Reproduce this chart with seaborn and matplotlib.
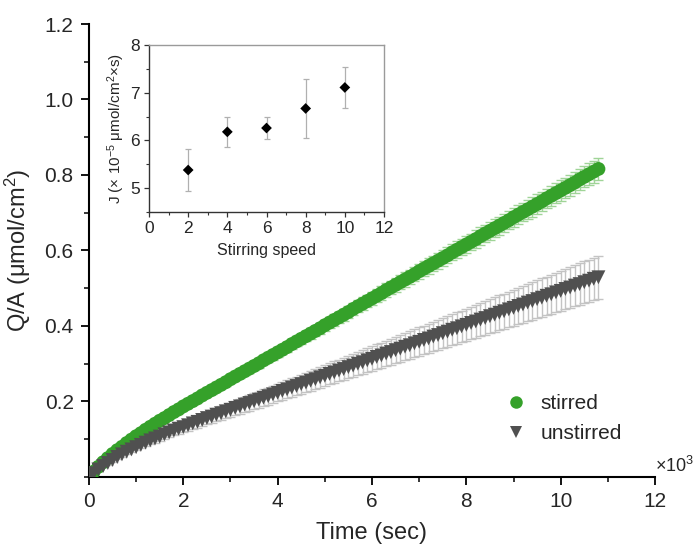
import numpy as np
import pandas as pd
import matplotlib
matplotlib.use("Agg")
import matplotlib.pyplot as plt
from matplotlib.ticker import MultipleLocator
import seaborn as sns

# --- main plot data (time in s, Q/A in umol/cm2) ---
time_s = list(range(0, 10900, 100))

stirred = [
    0.000, 0.014, 0.027, 0.039, 0.050, 0.061, 0.071, 0.080, 0.090, 0.099,
    0.108, 0.116, 0.125, 0.133, 0.141, 0.149, 0.156, 0.164, 0.172, 0.179,
    0.187, 0.194, 0.201, 0.208, 0.216, 0.223, 0.230, 0.237, 0.244, 0.251,
    0.259, 0.266, 0.273, 0.280, 0.287, 0.294, 0.301, 0.309, 0.316, 0.323,
    0.330, 0.337, 0.344, 0.352, 0.359, 0.366, 0.373, 0.380, 0.387, 0.394,
    0.402, 0.409, 0.416, 0.423, 0.430, 0.437, 0.445, 0.452, 0.459, 0.466,
    0.473, 0.480, 0.487, 0.495, 0.502, 0.509, 0.516, 0.523, 0.530, 0.537,
    0.545, 0.552, 0.559, 0.566, 0.573, 0.580, 0.587, 0.595, 0.602, 0.609,
    0.616, 0.623, 0.630, 0.638, 0.645, 0.652, 0.659, 0.666, 0.673, 0.680,
    0.688, 0.695, 0.702, 0.709, 0.716, 0.723, 0.730, 0.738, 0.745, 0.752,
    0.759, 0.766, 0.773, 0.780, 0.788, 0.795, 0.802, 0.809, 0.816,
]
stirred_err = [
    0.001, 0.002, 0.002, 0.002, 0.003, 0.003, 0.003, 0.004, 0.004, 0.004,
    0.004, 0.005, 0.005, 0.005, 0.005, 0.006, 0.006, 0.006, 0.007, 0.007,
    0.007, 0.007, 0.008, 0.008, 0.008, 0.008, 0.009, 0.009, 0.009, 0.009,
    0.010, 0.010, 0.010, 0.010, 0.011, 0.011, 0.011, 0.011, 0.012, 0.012,
    0.012, 0.012, 0.013, 0.013, 0.013, 0.013, 0.014, 0.014, 0.014, 0.014,
    0.015, 0.015, 0.015, 0.015, 0.016, 0.016, 0.016, 0.016, 0.017, 0.017,
    0.017, 0.017, 0.018, 0.018, 0.018, 0.018, 0.019, 0.019, 0.019, 0.019,
    0.020, 0.020, 0.020, 0.020, 0.021, 0.021, 0.021, 0.021, 0.022, 0.022,
    0.022, 0.022, 0.023, 0.023, 0.023, 0.023, 0.024, 0.024, 0.024, 0.024,
    0.025, 0.025, 0.025, 0.025, 0.026, 0.026, 0.026, 0.026, 0.027, 0.027,
    0.027, 0.027, 0.028, 0.028, 0.028, 0.028, 0.029, 0.029, 0.029,
]
unstirred = [
    0.000, 0.010, 0.020, 0.029, 0.037, 0.045, 0.053, 0.060, 0.067, 0.073,
    0.079, 0.085, 0.091, 0.097, 0.102, 0.107, 0.113, 0.118, 0.123, 0.128,
    0.132, 0.137, 0.142, 0.146, 0.151, 0.156, 0.160, 0.165, 0.169, 0.174,
    0.178, 0.183, 0.187, 0.192, 0.196, 0.201, 0.205, 0.210, 0.214, 0.219,
    0.223, 0.228, 0.232, 0.237, 0.241, 0.246, 0.250, 0.255, 0.259, 0.264,
    0.268, 0.273, 0.277, 0.282, 0.286, 0.291, 0.295, 0.300, 0.304, 0.309,
    0.313, 0.318, 0.322, 0.327, 0.331, 0.336, 0.340, 0.345, 0.349, 0.354,
    0.358, 0.363, 0.367, 0.372, 0.376, 0.381, 0.385, 0.390, 0.394, 0.399,
    0.403, 0.408, 0.412, 0.417, 0.421, 0.426, 0.430, 0.435, 0.439, 0.444,
    0.448, 0.453, 0.457, 0.462, 0.466, 0.471, 0.475, 0.480, 0.484, 0.489,
    0.493, 0.498, 0.502, 0.507, 0.511, 0.516, 0.520, 0.525, 0.529,
]
unstirred_err = [
    0.001, 0.001, 0.002, 0.003, 0.004, 0.005, 0.005, 0.006, 0.007, 0.008,
    0.008, 0.009, 0.010, 0.010, 0.011, 0.011, 0.012, 0.013, 0.013, 0.014,
    0.014, 0.015, 0.015, 0.016, 0.016, 0.016, 0.017, 0.017, 0.018, 0.018,
    0.019, 0.019, 0.019, 0.020, 0.020, 0.021, 0.021, 0.022, 0.022, 0.023,
    0.023, 0.024, 0.024, 0.025, 0.025, 0.025, 0.026, 0.026, 0.027, 0.027,
    0.028, 0.028, 0.029, 0.029, 0.030, 0.030, 0.031, 0.031, 0.032, 0.032,
    0.033, 0.033, 0.034, 0.034, 0.035, 0.035, 0.036, 0.036, 0.037, 0.037,
    0.038, 0.038, 0.039, 0.039, 0.040, 0.040, 0.041, 0.041, 0.042, 0.042,
    0.043, 0.043, 0.044, 0.044, 0.045, 0.045, 0.046, 0.046, 0.047, 0.047,
    0.048, 0.048, 0.049, 0.049, 0.050, 0.050, 0.051, 0.051, 0.052, 0.052,
    0.053, 0.053, 0.054, 0.054, 0.055, 0.055, 0.056, 0.056, 0.057,
]

# --- inset data ---
speed = [2, 4, 6, 8, 10]
flux = [5.38, 6.18, 6.26, 6.67, 7.11]
flux_err = [0.45, 0.31, 0.24, 0.62, 0.43]

x_ticks = [0, 2000, 4000, 6000, 8000, 10000, 12000]
x_ticklabels = ["0", "2", "4", "6", "8", "10", "12"]
y_ticks = [0.2, 0.4, 0.6, 0.8, 1.0, 1.2]

green = "#35a12a"
green_light = "#9fd497"
dark = "#505050"
gray_light = "#c4c4c4"

sns.set_theme(style="ticks")
plt.rcParams["font.family"] = ["Liberation Sans", "DejaVu Sans"]
plt.rcParams["mathtext.fontset"] = "custom"
plt.rcParams["mathtext.rm"] = "Liberation Sans"
plt.rcParams["mathtext.it"] = "Liberation Sans:italic"

df = pd.concat([
    pd.DataFrame({"time": time_s, "qa": stirred, "err": stirred_err, "group": "stirred"}),
    pd.DataFrame({"time": time_s, "qa": unstirred, "err": unstirred_err, "group": "unstirred"}),
])

fig = plt.figure(figsize=(6.95, 5.48), dpi=100)
ax = fig.add_axes([0.128, 0.1296, 0.8145, 0.8266])

# error bars first, markers on top
ax.errorbar(time_s, unstirred, yerr=unstirred_err, fmt="none", ecolor=gray_light,
            elinewidth=1.0, capsize=3.5, capthick=1.0, zorder=1)
ax.errorbar(time_s, stirred, yerr=stirred_err, fmt="none", ecolor=green_light,
            elinewidth=1.0, capsize=3.5, capthick=1.0, zorder=1)
sns.scatterplot(data=df, x="time", y="qa", hue="group", style="group",
                palette={"stirred": green, "unstirred": dark},
                markers={"stirred": "o", "unstirred": "v"},
                s=100, edgecolor="none", linewidth=0, ax=ax, zorder=3)

ax.set_xlim(0, 12000)
ax.set_ylim(0, 1.2)
ax.set_xticks(x_ticks)
ax.set_xticklabels(x_ticklabels)
ax.set_yticks(y_ticks)
ax.set_yticklabels([f"{v:.1f}" for v in y_ticks])
ax.xaxis.set_minor_locator(MultipleLocator(1000))
ax.yaxis.set_minor_locator(MultipleLocator(0.1))
ax.tick_params(axis="both", which="major", direction="out", length=6, width=1.3,
               labelsize=15, color="black", pad=5)
ax.tick_params(axis="both", which="minor", direction="out", length=3.5, width=1.1,
               color="black")
for side in ["top", "right"]:
    ax.spines[side].set_visible(False)
for side in ["left", "bottom"]:
    ax.spines[side].set_linewidth(1.5)
    ax.spines[side].set_color("black")
ax.set_xlabel("Time (sec)", fontsize=17, labelpad=8)
ax.set_ylabel("Q/A (μmol/cm$^2$)", fontsize=17, labelpad=8)
fig.text(655 / 695, 1 - 466 / 548, "×10$^3$", fontsize=13, ha="left", va="center")

leg = ax.legend(loc="upper left", bbox_to_anchor=(0.685, 0.225), frameon=False,
                fontsize=15, handletextpad=0.15, labelspacing=0.55, markerscale=0.9)
leg.set_title(None)

# --- inset ---
ins = fig.add_axes([149 / 695, 1 - 212 / 548, 235 / 695, 167 / 548])
ins.errorbar(speed, flux, yerr=flux_err, fmt="none", ecolor="#b0b0b0",
             elinewidth=0.9, capsize=2.5, capthick=0.9, zorder=1)
sns.scatterplot(x=speed, y=flux, marker="D", color="black", s=30,
                edgecolor="none", ax=ins, zorder=3)
ins.set_xlim(0, 12)
ins.set_ylim(4.5, 8)
ins.set_xticks([0, 2, 4, 6, 8, 10, 12])
ins.set_yticks([5, 6, 7, 8])
ins.xaxis.set_minor_locator(MultipleLocator(1))
ins.yaxis.set_minor_locator(MultipleLocator(0.5))
ins.tick_params(axis="both", which="major", direction="out", length=3.5, width=0.9,
                labelsize=12.5, color="#333333", pad=3)
ins.tick_params(axis="both", which="minor", direction="out", length=2, width=0.8,
                color="#333333")
for side in ["top", "right"]:
    ins.spines[side].set_color("#9a9a9a")
    ins.spines[side].set_linewidth(1.0)
for side in ["left", "bottom"]:
    ins.spines[side].set_color("#333333")
    ins.spines[side].set_linewidth(1.0)
ins.set_xlabel("Stirring speed", fontsize=11.5, labelpad=5)
ins.set_ylabel("J (× 10$^{-5}$ μmol/cm$^{2}$×s)", fontsize=11, labelpad=2)

fig.savefig("out.png", dpi=100)
